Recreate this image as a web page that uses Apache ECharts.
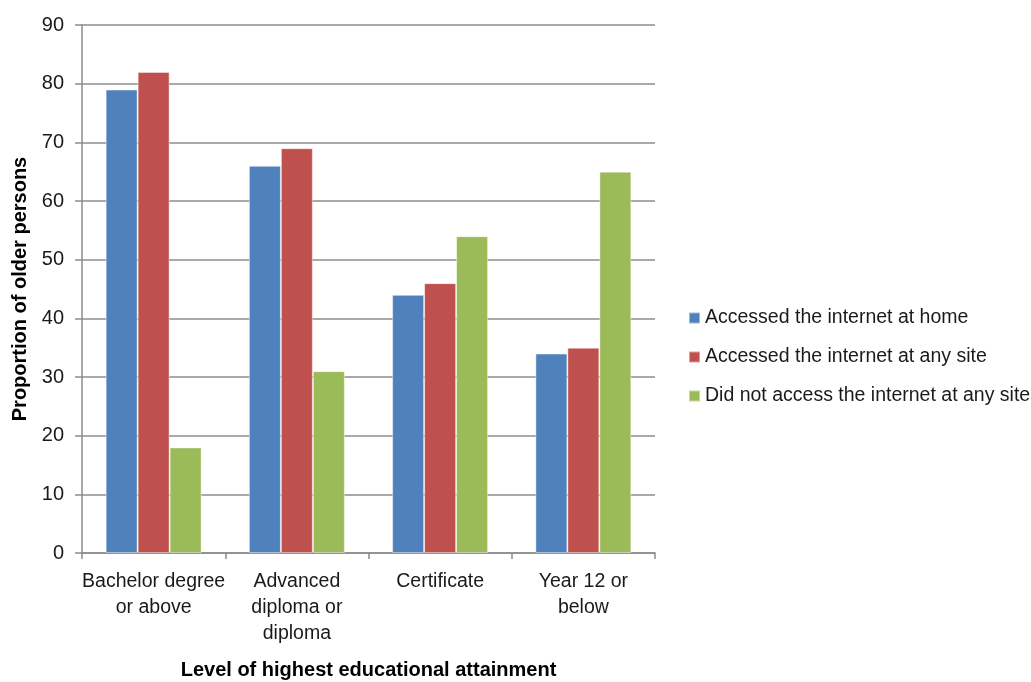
<!DOCTYPE html>
<html>
<head>
<meta charset="utf-8">
<script src="https://cdn.jsdelivr.net/npm/echarts@6/dist/echarts.min.js"></script>
<style>
  html, body { margin: 0; padding: 0; background: #fff; overflow: hidden; }
  #chart { width: 1031px; height: 682px; }
</style>
</head>
<body>
<div id="chart"></div>
<script>
// Education levels and the share of older persons in each internet-use group
const categories = [
  'Bachelor degree\nor above',
  'Advanced\ndiploma or\ndiploma',
  'Certificate',
  'Year 12 or\nbelow'
];
const seriesNames = [
  'Accessed the internet at home',
  'Accessed the internet at any site',
  'Did not access the internet at any site'
];
const accessedHome = [79, 66, 44, 34];
const accessedAnySite = [82, 69, 46, 35];
const notAccessed = [18, 31, 54, 65];
const yTicks = { min: 0, max: 90, interval: 10 };

const palette = ['#4F81BD', '#C0504D', '#9BBB59'];
const font = '"Liberation Sans", Arial, sans-serif';
const gridGrey = '#8c8c8c';

const chart = echarts.init(document.getElementById('chart'));

function barSeries(name, data, color) {
  return {
    name: name,
    type: 'bar',
    data: data,
    barGap: '0%',
    barCategoryGap: '33%',
    itemStyle: { color: color, borderColor: 'rgba(255,255,255,0.45)', borderWidth: 1 },
    emphasis: { disabled: true }
  };
}

chart.setOption({
  animation: false,
  textStyle: { fontFamily: font },
  grid: { left: 82, right: 376, top: 25, bottom: 129, containLabel: false, outerBoundsMode: 'none' },
  legend: {
    orient: 'vertical',
    left: 688,
    top: 308,
    padding: 0,
    itemWidth: 11,
    itemHeight: 11,
    itemGap: 19,
    icon: 'rect',
    textStyle: { fontFamily: font, fontSize: 19.5, color: '#1a1a1a' },
    data: seriesNames
  },
  xAxis: {
    type: 'category',
    data: categories,
    name: 'Level of highest educational attainment',
    nameLocation: 'middle',
    nameGap: 107,
    nameTextStyle: { fontFamily: font, fontSize: 20, fontWeight: 'bold', color: '#000' },
    axisLine: { lineStyle: { color: gridGrey, width: 1.5 } },
    axisTick: { show: true, length: 6, alignWithLabel: false, lineStyle: { color: gridGrey, width: 1.5 } },
    axisLabel: {
      fontFamily: font, fontSize: 19.5, color: '#1a1a1a',
      lineHeight: 26, margin: 16, interval: 0
    }
  },
  yAxis: {
    type: 'value',
    min: yTicks.min,
    max: yTicks.max,
    interval: yTicks.interval,
    name: 'Proportion of older persons',
    nameLocation: 'middle',
    nameGap: 51,
    nameTextStyle: { fontFamily: font, fontSize: 20, fontWeight: 'bold', color: '#000' },
    axisLine: { show: true, lineStyle: { color: gridGrey, width: 1.5 } },
    axisTick: { show: true, length: 7, lineStyle: { color: gridGrey, width: 1.5 } },
    axisLabel: { fontFamily: font, fontSize: 20, color: '#1a1a1a', margin: 18 },
    splitLine: { show: true, lineStyle: { color: gridGrey, width: 1.5 } }
  },
  series: [
    barSeries(seriesNames[0], accessedHome, palette[0]),
    barSeries(seriesNames[1], accessedAnySite, palette[1]),
    barSeries(seriesNames[2], notAccessed, palette[2])
  ]
});
</script>
</body>
</html>
